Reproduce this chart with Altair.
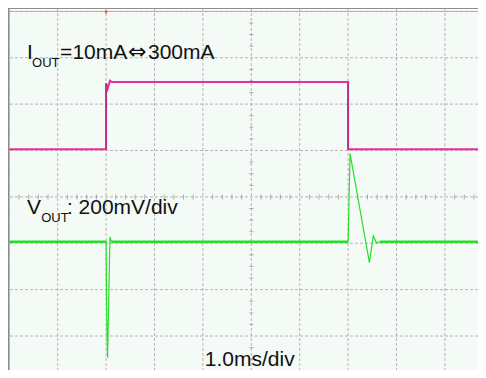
import altair as alt
import pandas as pd

# ---- data ----
# time in ms (1.0 ms/div, 10 div across)
t_iout = [0.0, 2.0, 2.0, 2.03, 2.08, 2.12, 7.0, 7.0, 10.0]
i_iout = [10, 10, 295, 270, 306, 300, 300, 10, 10]           # mA, 200 mA/div

t_vout = [0.0, 2.0, 2.01, 2.03, 2.08, 2.11, 7.0, 7.04, 7.44, 7.52, 7.59, 7.66, 10.0]
v_vout = [0, 0, -290, -500, 20, 0, 0, 380, -90, 25, -7, 0, 0]  # mV deviation, 200 mV/div

grid_x = list(range(0, 11))
grid_y = list(range(0, 9))
minor_x = [i / 5 for i in range(0, 51) if i % 5 != 0]     # along centre horizontal line
minor_y = [i / 4 for i in range(0, 33) if i % 4 != 0]     # along centre vertical line

labels_main = [
    {"t": 0.366, "d": 6.966, "txt": "I", "size": 21, "font": "Liberation Sans"},
    {"t": 0.47, "d": 6.80, "txt": "OUT", "size": 13, "font": "Liberation Sans"},
    {"t": 1.05, "d": 6.966, "txt": "=10mA", "size": 21, "font": "Liberation Sans"},
    {"t": 2.455, "d": 6.966, "txt": "\u21d4", "size": 22, "font": "DejaVu Sans"},
    {"t": 2.866, "d": 6.966, "txt": "300mA", "size": 21, "font": "Liberation Sans"},
    {"t": 0.366, "d": 3.631, "txt": "V", "size": 21, "font": "Liberation Sans"},
    {"t": 0.66, "d": 3.465, "txt": "OUT", "size": 13, "font": "Liberation Sans"},
    {"t": 1.19, "d": 3.631, "txt": ": 200mV/div", "size": 21, "font": "Liberation Sans"},
    {"t": 4.04, "d": 0.36, "txt": "1.0ms/div", "size": 21, "font": "Liberation Sans"},
]

# screen placement (divisions from bottom)
I_ZERO = 4.976
V_BASE = 3.034
PER_DIV = 200.0

iout = pd.DataFrame({"t": t_iout, "val": i_iout})
iout["d"] = I_ZERO + iout["val"] / PER_DIV
iout["o"] = range(len(iout))

# vertical edges of the current step (drawn a little darker)
edges = []
for k in range(len(t_iout) - 1):
    if t_iout[k] == t_iout[k + 1]:
        edges.append({"t": t_iout[k],
                      "d": I_ZERO + i_iout[k] / PER_DIV,
                      "d2": I_ZERO + i_iout[k + 1] / PER_DIV})
edges = pd.DataFrame(edges)

vout = pd.DataFrame({"t": t_vout, "val": v_vout})
vout["d"] = V_BASE + vout["val"] / PER_DIV
vout["o"] = range(len(vout))

# flat (noisy) baseline pieces drawn thicker
segs = []
sid = 0
for k in range(len(t_vout) - 1):
    if v_vout[k] == 0 and v_vout[k + 1] == 0:
        segs.append({"t": t_vout[k], "d": V_BASE, "s": sid, "o": 0})
        segs.append({"t": t_vout[k + 1], "d": V_BASE, "s": sid, "o": 1})
        sid += 1
base = pd.DataFrame(segs)

W, H = 470, 362
xs = alt.Scale(domain=[-0.0269, -0.0269 + W / 48.4], nice=False, zero=False)
ys = alt.Scale(domain=[(382.4 - 8 - H) / 46.38, 374.4 / 46.38], nice=False, zero=False)

one = pd.DataFrame({"a": [0]})

bg = alt.Chart(one).mark_rect(color="#f4faf6").encode(
    x=alt.datum(0, scale=xs, axis=None), x2=alt.datum(10.5),
    y=alt.datum(-0.5, scale=ys, axis=None), y2=alt.datum(8),
)

gx = alt.Chart(pd.DataFrame({"t": grid_x})).mark_rule(
    color="#b5b5b5", strokeWidth=1, strokeDash=[3, 2]
).encode(x=alt.X("t:Q", scale=xs, axis=None))

gy = alt.Chart(pd.DataFrame({"d": grid_y})).mark_rule(
    color="#b5b5b5", strokeWidth=1, strokeDash=[3, 2]
).encode(y=alt.Y("d:Q", scale=ys, axis=None))

inner = alt.Chart(one).mark_rule(color="#b0b0b0", strokeWidth=1).encode(
    x=alt.datum(0, scale=xs, axis=None), y=alt.datum(-0.5, scale=ys, axis=None), y2=alt.datum(8.2)
) + alt.Chart(one).mark_rule(color="#b0b0b0", strokeWidth=1).encode(
    y=alt.datum(8, scale=ys, axis=None), x=alt.datum(-0.1, scale=xs, axis=None), x2=alt.datum(10.5)
)

outer = alt.Chart(one).mark_rule(color="#8c8c8c", strokeWidth=1).encode(
    x=alt.value(0.5), y=alt.value(0), y2=alt.value(H)
) + alt.Chart(one).mark_rule(color="#8c8c8c", strokeWidth=1).encode(
    y=alt.value(0.5), x=alt.value(0), x2=alt.value(W)
)

tick_h = alt.Chart(pd.DataFrame({"t": minor_x})).mark_tick(
    orient="vertical", size=5, thickness=1, color="#8a8a8a"
).encode(x=alt.X("t:Q", scale=xs, axis=None), y=alt.datum(4, scale=ys, axis=None))

tick_v = alt.Chart(pd.DataFrame({"d": minor_y})).mark_tick(
    orient="horizontal", size=4, thickness=1, color="#8a8a8a"
).encode(y=alt.Y("d:Q", scale=ys, axis=None), x=alt.datum(5, scale=xs, axis=None))

pink = alt.Chart(iout).mark_line(color="#ec2d9d", strokeWidth=2, clip=True).encode(
    x=alt.X("t:Q", scale=xs, axis=None), y=alt.Y("d:Q", scale=ys, axis=None), order="o:Q"
)

pink_edges = alt.Chart(edges).mark_rule(color="#a8307a", strokeWidth=1.3).encode(
    x=alt.X("t:Q", scale=xs, axis=None), y=alt.Y("d:Q", scale=ys, axis=None), y2="d2:Q"
)

green = alt.Chart(vout).mark_line(color="#2bdc2b", strokeWidth=1.2, clip=True).encode(
    x=alt.X("t:Q", scale=xs, axis=None), y=alt.Y("d:Q", scale=ys, axis=None), order="o:Q"
)

green_base = alt.Chart(base).mark_line(color="#2bdc2b", strokeWidth=2.6, clip=True).encode(
    x=alt.X("t:Q", scale=xs, axis=None), y=alt.Y("d:Q", scale=ys, axis=None),
    detail="s:N", order="o:Q"
)

trig = alt.Chart(one).mark_point(
    shape="triangle-down", filled=True, size=14, color="#ff4a1a", opacity=1
).encode(x=alt.datum(2, scale=xs, axis=None), y=alt.datum(7.98, scale=ys, axis=None))

texts = []
for lab in labels_main:
    texts.append(
        alt.Chart(pd.DataFrame([lab])).mark_text(
            align="left", baseline="alphabetic", font=lab["font"],
            fontSize=lab["size"], color="#111111"
        ).encode(
            x=alt.X("t:Q", scale=xs, axis=None),
            y=alt.Y("d:Q", scale=ys, axis=None),
            text="txt:N",
        )
    )

chart = alt.layer(
    bg, gx, gy, inner, outer, tick_h, tick_v, green_base, green, pink, pink_edges, trig, *texts
).properties(
    width=W, height=H, padding=0, autosize="none"
).configure_view(strokeWidth=0, fill="white")

chart.save("out.html", embed_options={"renderer": "svg", "actions": False})
